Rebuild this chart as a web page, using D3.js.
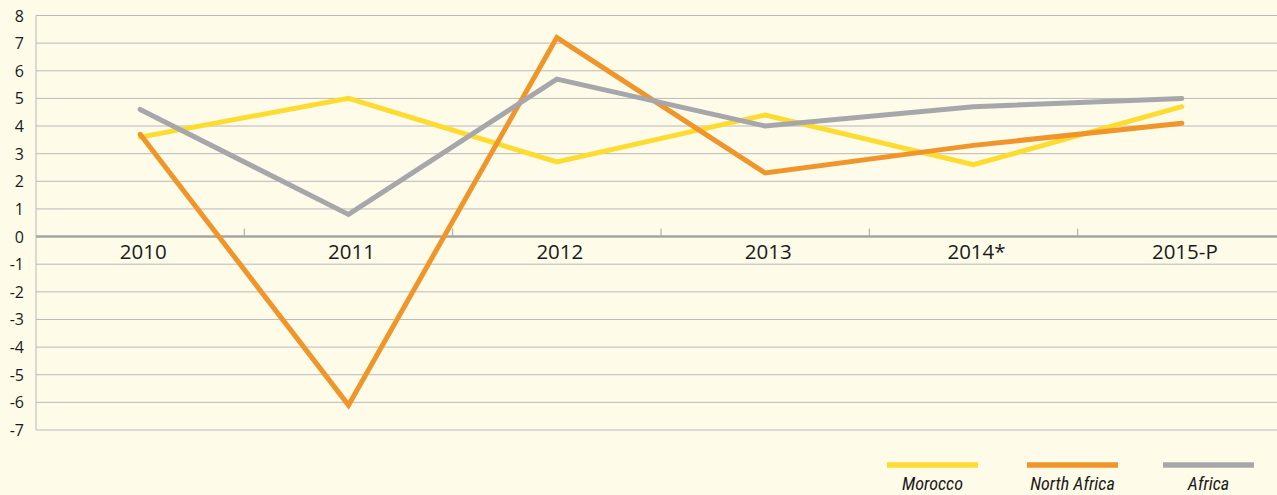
<!DOCTYPE html>
<html>
<head>
<meta charset="utf-8">
<script src="https://cdn.jsdelivr.net/npm/d3@7"></script>
<style>
  body { margin: 0; background: #fefbe9; }
  svg { display: block; font-family: "Open Sans", "Noto Sans", sans-serif; }
</style>
</head>
<body>
<svg width="1277" height="495"></svg>
<script>
const years = ['2010', '2011', '2012', '2013', '2014*', '2015-P'];
const morocco = [3.6, 5.0, 2.7, 4.4, 2.6, 4.7];
const northAfrica = [3.7, -6.1, 7.2, 2.3, 3.3, 4.1];
const africa = [4.6, 0.8, 5.7, 4.0, 4.7, 5.0];
const yTicks = d3.range(-7, 9);

const series = [
  { name: 'Morocco', values: morocco, colour: '#fddc32' },
  { name: 'North Africa', values: northAfrica, colour: '#f0952a' },
  { name: 'Africa', values: africa, colour: '#a7a7ab' }
];

const svg = d3.select('svg');
const plotLeft = 36, plotRight = 1286, plotTop = 15.5, plotBottom = 430;

const x = d3.scaleBand().domain(years).range([plotLeft, plotRight]);
const y = d3.scaleLinear().domain([-7, 8]).range([plotBottom, plotTop]);

// grid
svg.append('g')
  .selectAll('line')
  .data(yTicks.filter(d => d != 0))
  .enter().append('line')
    .attr('x1', plotLeft).attr('x2', 1277)
    .attr('y1', d => y(d)).attr('y2', d => y(d))
    .attr('stroke', '#b9b9b9')
    .attr('stroke-width', 1);

// y axis line
svg.append('line')
  .attr('x1', plotLeft).attr('x2', plotLeft)
  .attr('y1', plotTop).attr('y2', plotBottom)
  .attr('stroke', '#b9b9b9');

// y labels
svg.append('g')
  .selectAll('text')
  .data(yTicks)
  .enter().append('text')
    .attr('x', 24)
    .attr('y', d => y(d) + 6)
    .attr('text-anchor', 'end')
    .attr('font-size', 16)
    .attr('fill', '#1a1a1a')
    .text(d => d);

// zero line + category ticks
svg.append('line')
  .attr('x1', plotLeft).attr('x2', 1277)
  .attr('y1', y(0)).attr('y2', y(0))
  .attr('stroke', '#a5a5a5')
  .attr('stroke-width', 2.5);

svg.append('g')
  .selectAll('line')
  .data(years.slice(1))
  .enter().append('line')
    .attr('x1', d => x(d)).attr('x2', d => x(d))
    .attr('y1', y(0) - 8).attr('y2', y(0))
    .attr('stroke', '#a5a5a5');

svg.append('g')
  .selectAll('text')
  .data(years)
  .enter().append('text')
    .attr('x', d => x(d) + x.bandwidth() / 2 + 3)
    .attr('y', y(0) + 22.5)
    .attr('text-anchor', 'middle')
    .attr('font-size', 20.5)
    .attr('fill', '#1a1a1a')
    .text(d => d);

// lines
const line = d3.line()
  .x((d, i) => x(years[i]) + x.bandwidth() / 2)
  .y(d => y(d));

svg.append('g')
  .selectAll('path')
  .data(series)
  .enter().append('path')
    .attr('d', d => line(d.values))
    .attr('fill', 'none')
    .attr('stroke', d => d.colour)
    .attr('stroke-width', 5)
    .attr('stroke-linecap', 'round')
    .attr('stroke-linejoin', 'miter');

// legend
const legendX = [887, 1027, 1163];
const legend = svg.append('g')
  .selectAll('g')
  .data(series)
  .enter().append('g')
    .attr('transform', (d, i) => 'translate(' + legendX[i] + ',0)');

legend.append('line')
  .attr('x1', 0).attr('x2', 91)
  .attr('y1', 465).attr('y2', 465)
  .attr('stroke', d => d.colour)
  .attr('stroke-width', 5.5);

legend.append('text')
  .attr('transform', 'translate(45.5,490) scale(0.95,1)')
  .attr('text-anchor', 'middle')
  .attr('font-size', 19)
  .attr('font-style', 'italic')
  .attr('font-family', '"Liberation Sans Narrow", "Roboto Condensed", sans-serif')
  .attr('fill', '#1a1a1a')
  .text(d => d.name);
</script>
</body>
</html>
